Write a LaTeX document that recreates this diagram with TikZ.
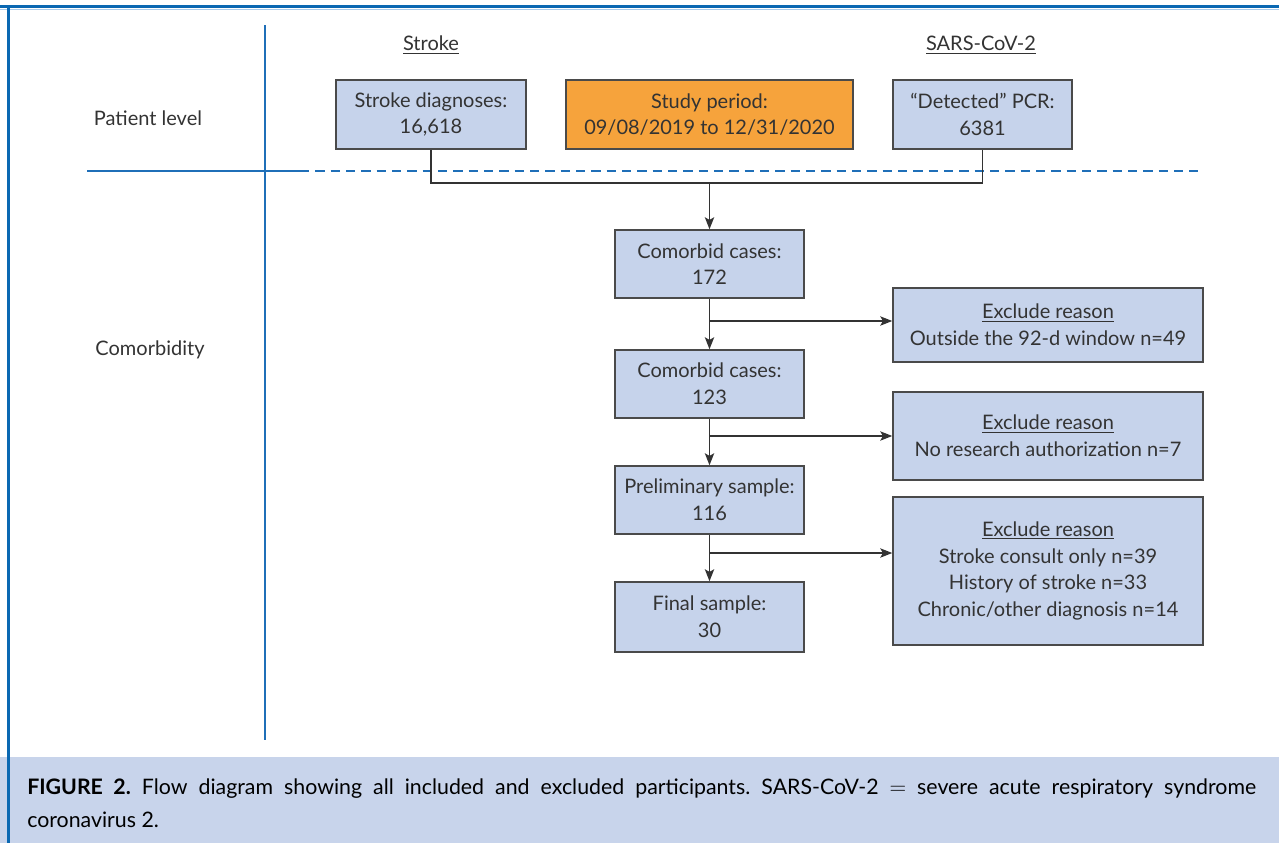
\documentclass[tikz,border=0pt]{standalone}
\usepackage{fontspec}
\setmainfont{Lato}
\usetikzlibrary{arrows.meta}
\definecolor{boxblue}{HTML}{C6D3EB}
\definecolor{boxorange}{HTML}{F6A33C}
\definecolor{edge}{HTML}{4A4A4A}
\definecolor{lineblue}{HTML}{1F6FB8}
\definecolor{topblue}{HTML}{0A68B2}
\definecolor{lightline}{HTML}{A9CBEB}
\definecolor{capbg}{HTML}{C8D4EB}
\definecolor{txt}{HTML}{333333}
\tikzset{
  flowbox/.style={draw=edge, line width=1.1pt, fill=boxblue, align=center, text=txt,
    font=\fontsize{15}{20}\selectfont, inner sep=0pt},
  conn/.style={draw=txt, line width=1.1pt},
  arr/.style={conn, -{Stealth[length=9pt,width=7pt,inset=2pt]}},
  sidelabel/.style={text=txt, font=\fontsize{15}{20}\selectfont},
  sepline/.style={draw=lineblue, line width=1.1pt}
}
\begin{document}
\begin{tikzpicture}[x=0.75pt, y=-0.75pt]
\useasboundingbox (0,0) rectangle (1279,843);
% caption background
\fill[capbg] (0,757) rectangle (1279,843);
% frame lines
\draw[lightline, line width=1pt] (0,9.5) -- (1279,9.5);
\draw[topblue, line width=2.6pt] (0,6.5) -- (1279,6.5);
\draw[topblue, line width=2.4pt] (8.5,5) -- (8.5,843);
% separators
\draw[sepline] (265,25) -- (265,740);
\draw[sepline] (87,171) -- (300,171);
\draw[sepline, dash pattern=on 7pt off 4.5pt] (300,171) -- (1198,171);
% side labels
\node[sidelabel] (pl) at (148,118) {Patient level};
\node[sidelabel] (cm) at (150,350) {Comorbidity};
% column headers
\node[sidelabel] (hs) at (431,45) {\underline{Stroke}};
\node[sidelabel] (hc) at (981,45) {\underline{SARS-CoV-2}};
% top boxes
\node[flowbox, minimum width=142.5pt, minimum height=51.75pt] (stroke) at (431,114.5) {Stroke diagnoses:\\16,618};
\node[flowbox, fill=boxorange, minimum width=215.25pt, minimum height=51.75pt] (study) at (709.5,114.5) {Study period:\\09/08/2019 to 12/31/2020};
\node[flowbox, minimum width=134.25pt, minimum height=51.75pt] (pcr) at (982.5,114.5) {``Detected'' PCR:\\6381};
% main column
\node[flowbox, minimum width=141.75pt, minimum height=51pt] (c172) at (709.5,264) {Comorbid cases:\\172};
\node[flowbox, minimum width=141.75pt, minimum height=51pt] (c123) at (709.5,384) {Comorbid cases:\\123};
\node[flowbox, minimum width=141.75pt, minimum height=51pt] (prelim) at (709.5,500) {Preliminary sample:\\116};
\node[flowbox, minimum width=141.75pt, minimum height=52.5pt] (final) at (709.5,617) {Final sample:\\30};
% exclusion boxes
\node[flowbox, minimum width=232.5pt, minimum height=55.5pt] (ex1) at (1048,325) {\underline{Exclude reason}\\Outside the 92-d window n=49};
\node[flowbox, minimum width=232.5pt, minimum height=66pt] (ex2) at (1048,436) {\underline{Exclude reason}\\No research authorization n=7};
\node[flowbox, minimum width=232.5pt, minimum height=111pt] (ex3) at (1048,571) {\underline{Exclude reason}\\Stroke consult only n=39\\History of stroke n=33\\Chronic/other diagnosis n=14};
% join connector
\coordinate (j) at (709.5,183);
\draw[conn] (stroke.south) -- (stroke.south |- j) -- (pcr.south |- j) -- (pcr.south);
\draw[arr] (j) -- (c172.north);
% main flow
\draw[arr] (c172.south) -- (c123.north);
\draw[arr] (c123.south) -- (prelim.north);
\draw[arr] (prelim.south) -- (final.north);
% branches
\coordinate (b1) at (709.5,321);
\coordinate (b2) at (709.5,436);
\coordinate (b3) at (709.5,553);
\draw[arr] (b1) -- (b1 -| ex1.west);
\draw[arr] (b2) -- (b2 -| ex2.west);
\draw[arr] (b3) -- (b3 -| ex3.west);
% caption
\node[anchor=north west, inner sep=0pt, text width=921.75pt, align=justify,
  font=\fontsize{16}{24.75}\selectfont\frenchspacing, text=black] (cap) at (27,779)
  {\textbf{FIGURE 2.} Flow diagram showing all included and excluded participants. SARS-CoV-2 $=$ severe acute respiratory syndrome\linebreak coronavirus 2.};
\end{tikzpicture}
\end{document}
